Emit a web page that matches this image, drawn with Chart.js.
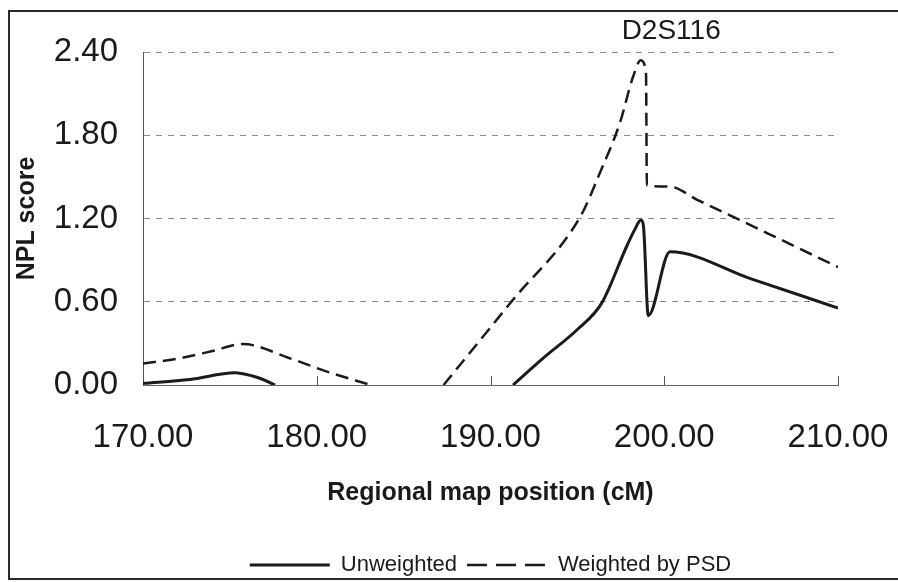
<!DOCTYPE html>
<html>
<head>
<meta charset="utf-8">
<script src="https://cdn.jsdelivr.net/npm/chart.js@4.4.0/dist/chart.umd.min.js"></script>
<style>
  html, body { margin: 0; padding: 0; background: #fff; overflow: hidden; }
  #frame { position: absolute; left: 8px; top: 10px; width: 900px; height: 566px; border: 2px solid #2a2a2a; }
  #wrap { position: absolute; left: 0; top: 0; width: 898px; height: 582px; }
</style>
</head>
<body>
<div id="frame"></div>
<div id="wrap"><canvas id="nplChart"></canvas></div>
<script>
// values (cM, NPL score); null = curve below 0, not shown
const posUnweighted = [170, 172.7, 175.3, 176.3, 176.8, 177.6, 184, 191.3, 193, 195, 196.4, 197.84, 198.3, 198.66, 198.8, 199.08, 200.33, 205, 210];
const nplUnweighted = [0.012, 0.04, 0.088, 0.065, 0.045, 0, null, 0, 0.19, 0.40, 0.59, 1.0, 1.12, 1.19, 1.15, 0.5, 0.96, 0.765, 0.555];

const posWeighted = [170, 172, 174, 175.75, 178.4, 180.5, 183.1, 185, 187.3, 191.2, 195.2, 196.3, 197.45, 198.2, 198.65, 198.95, 199.0, 200.3, 201.9, 206, 210];
const nplWeighted = [0.155, 0.19, 0.245, 0.295, 0.195, 0.10, 0, null, 0, 0.6, 1.22, 1.53, 1.89, 2.22, 2.34, 2.25, 1.44, 1.43, 1.335, 1.09, 0.85];

const seriesNames = ['Unweighted', 'Weighted by PSD'];
const xTicks = [170, 180, 190, 200, 210];
const yTicks = [0, 0.6, 1.2, 1.8, 2.4];
const markerName = 'D2S116';
const markerPos = 200.4;

const FONT = '"Liberation Sans", Arial, Helvetica, sans-serif';
const INK = '#1a1a1a';

function toPoints(xs, ys) {
    return xs.map((x, i) => ({ x: x, y: ys[i] }));
}

// small inward tick marks on the x axis + marker label above the plot
const extras = {
    id: 'extras',
    afterDatasetsDraw(chart) {
        const { ctx, scales: { x, y } } = chart;
        const y0 = y.getPixelForValue(0);
        ctx.save();
        ctx.strokeStyle = '#555';
        ctx.lineWidth = 1;
        xTicks.slice(1).forEach(v => {
            const px = Math.round(x.getPixelForValue(v)) + 0.5;
            ctx.beginPath();
            ctx.moveTo(px, y0);
            ctx.lineTo(px, y0 - 9);
            ctx.stroke();
        });
        ctx.fillStyle = INK;
        ctx.font = '28px ' + FONT;
        ctx.textAlign = 'center';
        ctx.textBaseline = 'middle';
        ctx.fillText(markerName, x.getPixelForValue(markerPos), 31);
        ctx.restore();
    }
};

Chart.defaults.font.family = FONT;
Chart.defaults.color = INK;

const ctx = document.getElementById('nplChart');
new Chart(ctx, {
    type: 'line',
    data: {
        datasets: [{
            label: seriesNames[0],
            data: toPoints(posUnweighted, nplUnweighted),
            borderColor: '#1b1b1b',
            backgroundColor: 'rgba(0,0,0,0)',
            borderWidth: 3,
            pointRadius: 0,
            fill: false,
            spanGaps: false,
            cubicInterpolationMode: 'monotone'
        }, {
            label: seriesNames[1],
            data: toPoints(posWeighted, nplWeighted),
            borderColor: '#1b1b1b',
            backgroundColor: 'rgba(0,0,0,0)',
            borderWidth: 2.5,
            borderDash: [13, 7],
            pointRadius: 0,
            fill: false,
            spanGaps: false,
            cubicInterpolationMode: 'monotone'
        }]
    },
    options: {
        responsive: true,
        maintainAspectRatio: false,
        animation: false,
        layout: { padding: { left: 0, top: 52, right: 60, bottom: -4 } },
        plugins: {
            tooltip: { enabled: false },
            legend: {
                position: 'bottom',
                fullSize: false,
                labels: {
                    usePointStyle: true,
                    pointStyle: 'line',
                    pointStyleWidth: 80,
                    color: INK,
                    padding: 10,
                    font: { size: 22 },
                    // keep the line style of each series in its legend sample
                    generateLabels: chart => Chart.defaults.plugins.legend.labels.generateLabels(chart).map((item, i) => {
                        const ds = chart.data.datasets[i];
                        item.lineDash = ds.borderDash ? [20, 9] : [];
                        item.lineWidth = ds.borderWidth;
                        item.strokeStyle = ds.borderColor;
                        return item;
                    })
                }
            }
        },
        scales: {
            x: {
                type: 'linear',
                min: 170,
                max: 210,
                afterBuildTicks: s => { s.ticks = xTicks.map(v => ({ value: v })); },
                afterFit: s => { s.height = 159; s.paddingLeft = 0; s.paddingRight = 0; },
                ticks: {
                    padding: 25,
                    font: { size: 33 },
                    color: INK,
                    maxRotation: 0,
                    callback: v => Number(v).toFixed(2)
                },
                grid: { display: false },
                border: { display: true, color: '#666', width: 1 },
                title: {
                    display: true,
                    text: 'Regional map position (cM)',
                    font: { size: 25, weight: 'bold' },
                    color: INK,
                    padding: { top: 0, bottom: 36 }
                }
            },
            y: {
                min: 0,
                max: 2.4,
                afterBuildTicks: s => { s.ticks = yTicks.map(v => ({ value: v })); },
                afterFit: s => { s.width = 143; },
                ticks: {
                    padding: 25,
                    font: { size: 33 },
                    color: INK,
                    callback: v => Number(v).toFixed(2)
                },
                grid: {
                    drawTicks: false,
                    lineWidth: 1,
                    color: c => (c.tick && c.tick.value === 0) ? 'rgba(0,0,0,0)' : '#8a8a8a'
                },
                border: { display: true, color: '#555', width: 1, dash: [6, 6] },
                title: {
                    display: true,
                    text: 'NPL score',
                    font: { size: 25, weight: 'bold' },
                    color: INK,
                    padding: { top: 12, bottom: 0 }
                }
            }
        }
    },
    plugins: [extras]
});
</script>
</body>
</html>
